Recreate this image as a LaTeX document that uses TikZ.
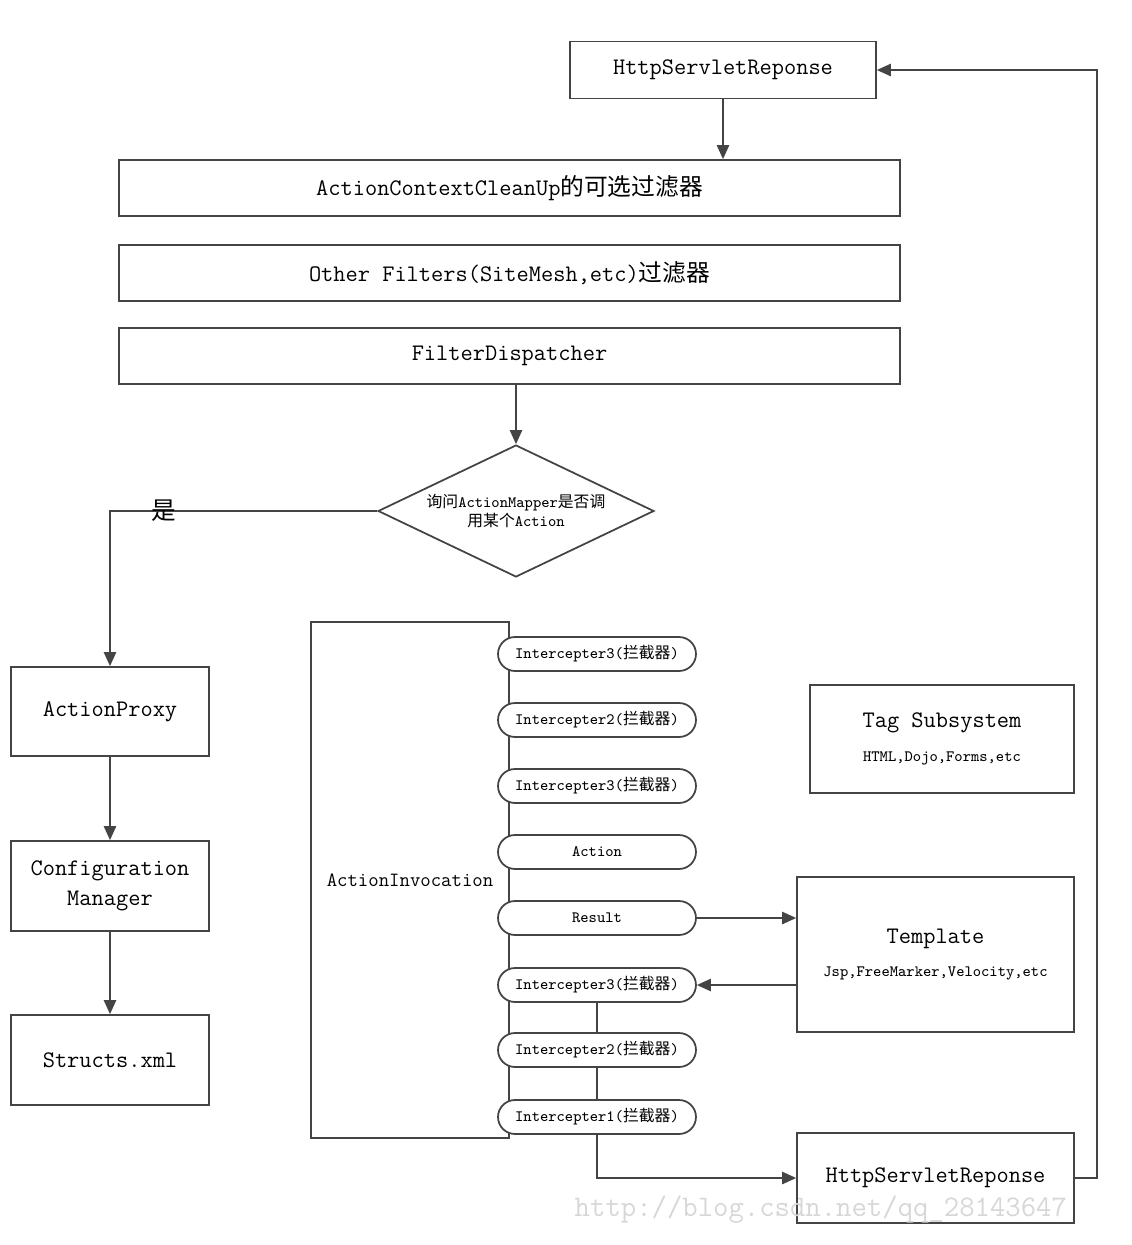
\documentclass[tikz,border=0pt]{standalone}
\usepackage{fontspec}
\usepackage{tikz}
\usetikzlibrary{positioning,arrows.meta,shapes.geometric}
\newfontfamily\cjk{Noto Sans CJK SC}
\definecolor{lngray}{RGB}{68,68,68}
\definecolor{mkgray}{RGB}{215,215,215}

\begin{document}
\begin{tikzpicture}[x=0.02cm, y=-0.02cm, line width=1pt, line join=miter,
  box/.style={draw=lngray, fill=white, inner sep=0pt, align=center, font=\ttfamily\fontsize{13.5}{17}\selectfont},
  pill/.style={draw=lngray, fill=white, rounded corners=0.34cm, minimum width=3.96cm, minimum height=0.68cm, inner sep=0pt, font=\ttfamily\fontsize{9}{11}\selectfont},
  small/.style={font=\ttfamily\fontsize{9}{11}\selectfont},
  link/.style={draw=lngray, -{Triangle[length=8pt,width=7pt]}},
  wire/.style={draw=lngray}]

\useasboundingbox (0,0) rectangle (1132,1245);

%% filter chain -- starting from the top
\node[box, minimum width=6.12cm, minimum height=1.14cm] (resp) at (723,70) {HttpServletReponse};
\node[box, minimum width=15.62cm, minimum height=1.12cm] (cleanup) at (509.5,188) {ActionContextCleanUp{\cjk 的可选过滤器}};
\node[box, minimum width=15.62cm, minimum height=1.12cm] (other) at (509.5,273) {Other Filters(SiteMesh,etc){\cjk 过滤器}};
\node[box, minimum width=15.62cm, minimum height=1.12cm] (dispatcher) at (509.5,356) {FilterDispatcher};

%% decision
\node[diamond, draw=lngray, fill=white, aspect=2.1, minimum width=5.52cm, minimum height=2.64cm, inner sep=0pt, align=center, small] (mapper) at (516,511) {{\cjk 询问}ActionMapper{\cjk 是否调}\\{\cjk 用某个}Action};

%% left column
\node[box, minimum width=3.96cm, minimum height=1.78cm] (proxy) at (110,711.5) {ActionProxy};
\node[box, minimum width=3.96cm, minimum height=1.8cm] (config) at (110,886) {Configuration\\Manager};
\node[box, minimum width=3.96cm, minimum height=1.8cm] (structs) at (110,1060) {Structs.xml};

%% invocation and its interceptors
\node[box, minimum width=3.96cm, minimum height=10.32cm, font=\ttfamily\fontsize{11.5}{14}\selectfont] (invoc) at (410,880) {ActionInvocation};
\foreach \nm/\yy/\txt in {icAtop/654/Intercepter3({\cjk 拦截器}),
                          icBtop/720/Intercepter2({\cjk 拦截器}),
                          icCtop/786/Intercepter3({\cjk 拦截器}),
                          act/852/Action,
                          res/918/Result,
                          icClow/985/Intercepter3({\cjk 拦截器}),
                          icBlow/1050/Intercepter2({\cjk 拦截器}),
                          icAlow/1117/Intercepter1({\cjk 拦截器})}
  \node[pill] (\nm) at (597,\yy) {\txt};

%% right column
\node[box, minimum width=5.28cm, minimum height=2.16cm] (tag) at (942,739) {Tag Subsystem\\[2pt]{\fontsize{9}{11}\selectfont HTML,Dojo,Forms,etc}};
\node[box, minimum width=5.54cm, minimum height=3.1cm] (tmpl) at (935.5,954.5) {Template\\[2pt]{\fontsize{9}{11}\selectfont Jsp,FreeMarker,Velocity,etc}};
\node[box, minimum width=5.54cm, minimum height=1.8cm] (respb) at (935.5,1178) {HttpServletReponse};

%% connectors
\draw[link] (resp.south) -- (resp.south |- cleanup.north);
\draw[link] (mapper.north |- dispatcher.south) -- (mapper.north);
\draw[link] (mapper.west) -| node[pos=0.4, font=\fontsize{14}{16}\selectfont] (yes) {\cjk 是} (proxy.north);
\draw[link] (proxy.south) -- (config.north);
\draw[link] (config.south) -- (structs.north);
\draw[link] (res.east) -- (res.east -| tmpl.west);
\draw[link] (tmpl.west |- icClow.east) -- (icClow.east);
\draw[wire] (icClow.south) -- (icBlow.north);
\draw[wire] (icBlow.south) -- (icAlow.north);
\draw[link] (icAlow.south) |- (respb.west);
\coordinate (back) at (1097,1178);
\draw[link] (respb.east) -- (back) |- (resp.east);

%% watermark
\node[text=mkgray, anchor=west, font=\ttfamily\fontsize{17}{20}\selectfont] (mark) at (568,1210) {http://blog.csdn.net/qq\_28143647};

\end{tikzpicture}
\end{document}
